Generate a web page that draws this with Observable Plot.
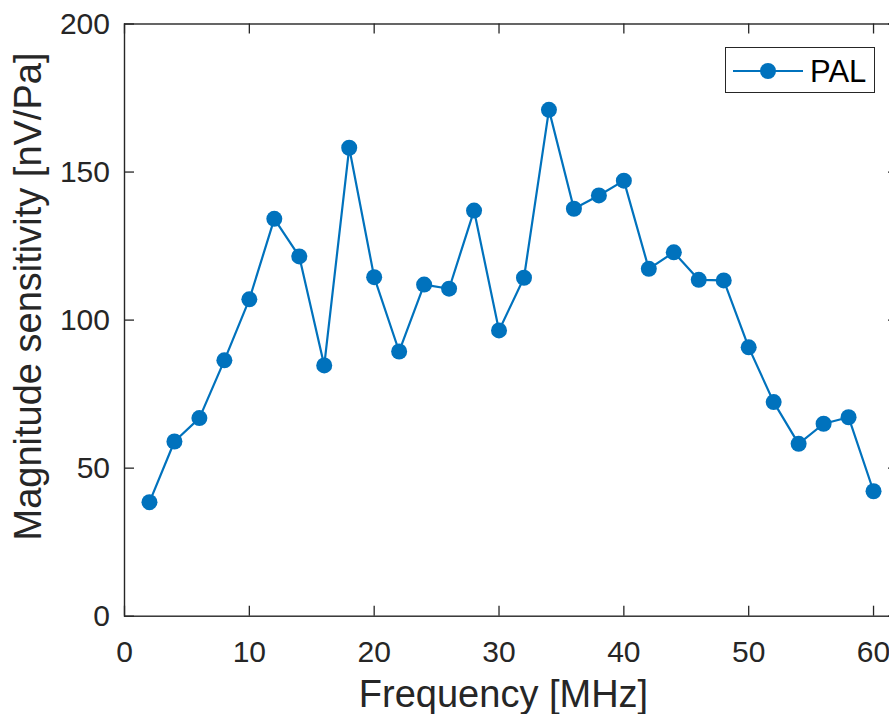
<!DOCTYPE html>
<html>
<head>
<meta charset="utf-8">
<script src="https://cdn.jsdelivr.net/npm/d3@7"></script>
<script src="https://cdn.jsdelivr.net/npm/@observablehq/plot@0.6"></script>
<style>
  html, body { margin: 0; padding: 0; background: #fff; overflow: hidden; }
  #wrap { position: relative; width: 889px; height: 714px; overflow: hidden; }
  #chart { width: 898px; }
  #chart svg { max-width: none !important; display: block; }
  #legend { position: absolute; left: 725px; top: 47px; width: 148px; height: 44px;
            border: 1.4px solid #262626; background: #fff; }
  #legend svg { display: block; }
</style>
</head>
<body>
<div id="wrap"><div id="chart"></div><div id="legend"></div></div>
<script>
const frequency = [2,4,6,8,10,12,14,16,18,20,22,24,26,28,30,32,34,36,38,40,42,44,46,48,50,52,54,56,58,60];
const sensitivity = [38.5,59.0,66.9,86.4,107.0,134.2,121.5,84.7,158.2,114.5,89.4,112.0,110.6,137.0,96.5,114.3,171.0,137.6,142.1,147.1,117.3,122.9,113.6,113.4,90.8,72.3,58.2,65.0,67.2,42.2];
const seriesName = "PAL";
const xTicks = [0,10,20,30,40,50,60];
const yTicks = [0,50,100,150,200];
const xLabel = "Frequency [MHz]";
const yLabel = "Magnitude sensitivity [nV/Pa]";

const data = frequency.map((f, i) => ({f, s: sensitivity[i]}));
const blue = "#0072BD";
const ink = "#262626";
const font = "'Liberation Sans', Arial, Helvetica, sans-serif";

const W = 898, H = 714, mL = 124, mR = 0, mT = 23.5, mB = 98.3;
const innerW = W - mL - mR, innerH = H - mT - mB;
const tick = 10;

const chart = Plot.plot({
  width: W, height: H,
  marginLeft: mL, marginRight: mR, marginTop: mT, marginBottom: mB,
  style: {fontFamily: font, fontSize: "30px", color: ink, background: "#fff", maxWidth: "none"},
  x: {domain: [0, 62]},
  y: {domain: [0, 200]},
  marks: [
    Plot.axisX({ticks: xTicks, tickSize: 0, tickPadding: 24, label: null, fill: ink, fontSize: 30}),
    Plot.axisY({ticks: yTicks, tickSize: 0, tickPadding: 14.5, label: null, fill: ink, fontSize: 30}),
    Plot.tickX(xTicks, {x: d => d, insetTop: innerH - tick, stroke: ink, strokeWidth: 1.3}),
    Plot.tickX(xTicks, {x: d => d, insetBottom: innerH - tick, stroke: ink, strokeWidth: 1.3}),
    Plot.tickY(yTicks, {y: d => d, insetRight: innerW - tick, stroke: ink, strokeWidth: 1.3}),
    Plot.tickY(yTicks, {y: d => d, insetLeft: innerW - tick, stroke: ink, strokeWidth: 1.3}),
    Plot.frame({stroke: ink, strokeWidth: 1.4}),
    Plot.line(data, {x: "f", y: "s", stroke: blue, strokeWidth: 2.2}),
    Plot.dot(data, {x: "f", y: "s", r: 8, fill: blue, stroke: null}),
    Plot.text([xLabel], {frameAnchor: "bottom", dy: 79, dx: -8, fontSize: 38, fill: ink, lineAnchor: "middle", textAnchor: "middle"}),
    Plot.text([yLabel], {frameAnchor: "left", rotate: -90, dx: -96, dy: -23.6, fontSize: 38, fill: ink, lineAnchor: "middle", textAnchor: "middle"})
  ]
});
document.getElementById("chart").appendChild(chart);

// legend
const leg = d3.select("#legend").append("svg").attr("width", 148).attr("height", 44);
leg.append("line").attr("x1", 7).attr("x2", 77).attr("y1", 23).attr("y2", 23)
  .attr("stroke", blue).attr("stroke-width", 2);
leg.append("circle").attr("cx", 42).attr("cy", 23).attr("r", 8).attr("fill", blue);
leg.append("text").attr("x", 84).attr("y", 23).attr("dy", "0.36em")
  .attr("font-family", font).attr("font-size", 31).attr("fill", "#000").text(seriesName);
</script>
</body>
</html>
